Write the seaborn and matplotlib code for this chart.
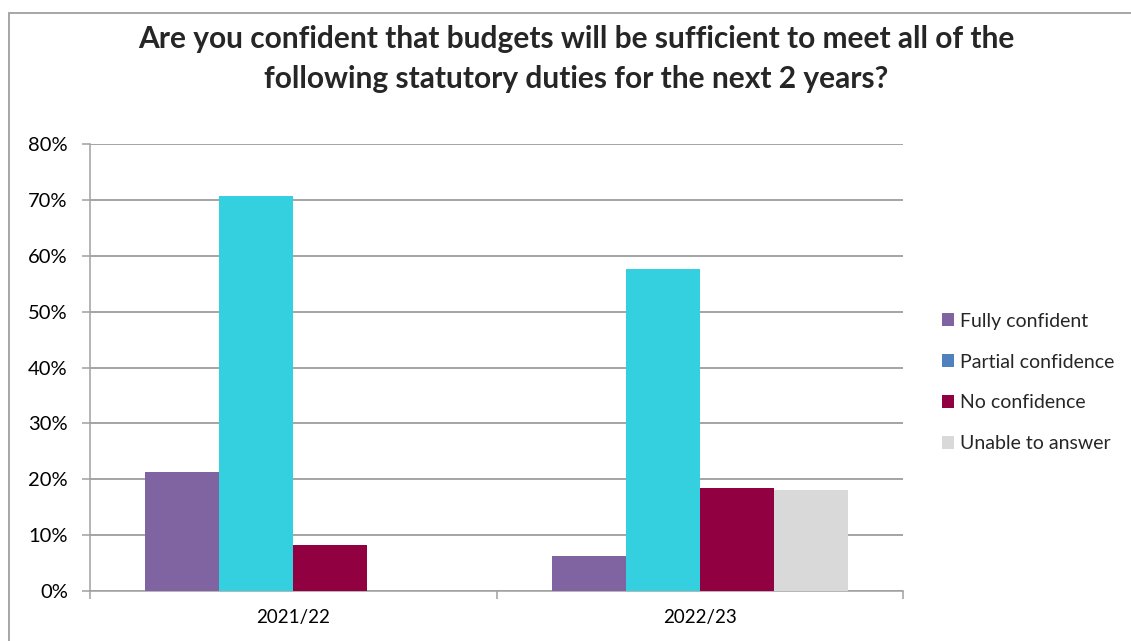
import matplotlib
matplotlib.use("Agg")
import matplotlib.pyplot as plt
import seaborn as sns
import pandas as pd
import numpy as np
from matplotlib.patches import Patch
from matplotlib.lines import Line2D
from matplotlib.ticker import FixedLocator, PercentFormatter

# Survey responses (% of respondents)
years = ["2021/22", "2022/23"]
responses = ["Fully confident", "Partial confidence", "No confidence", "Unable to answer"]
fully_confident = [21.3, 6.3]
partial_confidence = [70.7, 57.7]
no_confidence = [8.2, 18.5]
unable_to_answer = [np.nan, 18.0]

bar_colors = ["#8064A2", "#35D0E0", "#910040", "#D9D9D9"]
legend_colors = ["#8064A2", "#4F81BD", "#910040", "#D9D9D9"]

rows = []
for resp, vals in zip(responses, [fully_confident, partial_confidence, no_confidence, unable_to_answer]):
    for yr, v in zip(years, vals):
        if not np.isnan(v):
            rows.append({"Year": yr, "Response": resp, "Percent": v})
df = pd.DataFrame(rows)

sns.set_theme(style="white")
plt.rcParams["font.family"] = ["Lato", "DejaVu Sans"]

fig = plt.figure(figsize=(11.31, 6.41), dpi=100)
ax = fig.add_axes([90 / 1131, 50 / 641, 813 / 1131, 446.7 / 641])

sns.barplot(data=df, x="Year", y="Percent", hue="Response", order=years,
            hue_order=responses, palette=bar_colors, width=0.728, gap=0,
            linewidth=0, saturation=1, ax=ax, zorder=3)

ax.set_ylim(0, 80)
ax.set_xlim(-0.5, 1.5)
ax.yaxis.set_major_locator(FixedLocator(np.arange(0, 81, 10)))
ax.yaxis.set_major_formatter(PercentFormatter(decimals=0))
ax.grid(axis="y", color="#8C8C8C", linewidth=1.1, zorder=0)
ax.set_axisbelow(True)
ax.set_xlabel("")
ax.set_ylabel("")

for side in ["top", "right"]:
    ax.spines[side].set_visible(False)
for side in ["left", "bottom"]:
    ax.spines[side].set_color("#A0A0A0")
    ax.spines[side].set_linewidth(1.1)

ax.tick_params(axis="y", which="major", length=6, width=1.1, color="#A0A0A0",
               labelsize=14.5, labelcolor="black", pad=10, left=True)
ax.tick_params(axis="x", which="major", length=0, labelsize=13.5, labelcolor="black", pad=13)
ax.set_xticks([-0.5, 0.5, 1.5], minor=True)
ax.tick_params(axis="x", which="minor", length=6, width=1.1, color="#A0A0A0", bottom=True)

if ax.get_legend() is not None:
    ax.get_legend().remove()

handles = [Patch(facecolor=c, edgecolor="none") for c in legend_colors]
fig.legend(handles, responses, loc="upper left", bbox_to_anchor=(934 / 1131, 1 - 305 / 641),
           frameon=False, fontsize=14, handlelength=0.65, handleheight=0.65,
           handletextpad=0.3, labelspacing=1.22, borderaxespad=0)

fig.text(576 / 1131, 1 - 59 / 641,
         "Are you confident that budgets will be sufficient to meet all of the\nfollowing statutory duties for the next 2 years?",
         ha="center", va="center", fontsize=21.5, fontweight="bold", linespacing=1.56)

# Chart-area frame (top and left edges)
fig.add_artist(Line2D([9 / 1131, 1], [1 - 13 / 641, 1 - 13 / 641], color="#A6A6A6", linewidth=1.4))
fig.add_artist(Line2D([9 / 1131, 9 / 1131], [0, 1 - 13 / 641], color="#A6A6A6", linewidth=1.4))

fig.savefig("out.png", dpi=100)
